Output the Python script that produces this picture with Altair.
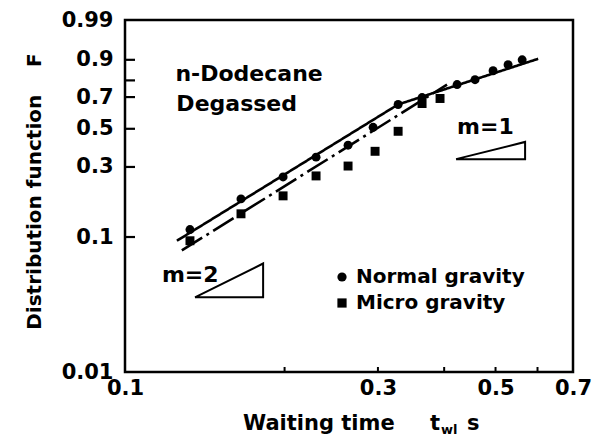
import altair as alt
import numpy as np
import pandas as pd

# ---------------- data ----------------
normal_t = [0.1326, 0.1655, 0.1987, 0.2293, 0.2635, 0.2938, 0.3275, 0.3634, 0.4231, 0.4574, 0.4947, 0.5280, 0.5613]
normal_F = [0.113, 0.185, 0.259, 0.345, 0.406, 0.509, 0.653, 0.697, 0.776, 0.804, 0.851, 0.879, 0.900]

micro_t = [0.1326, 0.1655, 0.1987, 0.2293, 0.2635, 0.2963, 0.3275, 0.3634, 0.3929]
micro_F = [0.094, 0.146, 0.194, 0.263, 0.304, 0.374, 0.485, 0.659, 0.691]

normal_fit_t = [0.1253, 0.3275, 0.6017]
normal_fit_F = [0.094, 0.653, 0.904]
micro_fit_t = [0.128, 0.405]
micro_fit_F = [0.080, 0.776]

tri_m2_t = [0.1355, 0.1822, 0.1822, 0.1355]
tri_m2_F = [0.0362, 0.0362, 0.0643, 0.0362]
tri_m1_t = [0.4212, 0.5685, 0.5685, 0.4212]
tri_m1_F = [0.3355, 0.3355, 0.424, 0.3355]

notes = ["n-Dodecane", "Degassed", "m=1", "m=2"]
notes_t = [0.1245, 0.1250, 0.4230, 0.1174]
notes_F = [0.836, 0.659, 0.512, 0.0526]

legend_labels = ["Normal gravity", "Micro gravity"]

y_tick_F = [0.01, 0.1, 0.3, 0.5, 0.7, 0.8, 0.9, 0.99]
y_tick_labels = ["0.01", "0.1", "0.3", "0.5", "0.7", "", "0.9", "0.99"]
y_inner_ticks = [0.1, 0.3, 0.5, 0.7, 0.8, 0.9]
x_label_t = [0.1, 0.3, 0.5, 0.7]
x_inner_ticks = [0.2, 0.3, 0.4, 0.5, 0.6]

# ---------------- helpers ----------------
FONT = "DejaVu Sans"
W, H = 448, 352


def weib(F):
    return np.log(-np.log(1.0 - np.asarray(F, dtype=float)))


y_vals = [float(v) for v in weib(y_tick_F)]
expr = "''"
for v, lab in reversed(list(zip(y_vals, y_tick_labels))):
    expr = f"abs(datum.value - ({v:.6f})) < 0.001 ? '{lab}' : " + expr

xscale = alt.Scale(type="log", domain=[0.1, 0.7], nice=False)
yscale = alt.Scale(domain=[float(weib(0.01)), float(weib(0.99))], nice=False, zero=False)

X = alt.X("t:Q", scale=xscale, axis=alt.Axis(
    values=x_label_t, format=".1f", labelFlush=False, labelOverlap=False,
    labelFont=FONT, labelFontSize=21, labelFontWeight="bold", labelColor="black",
    labelPadding=5, ticks=False, tickSize=0, domain=False, grid=False, title=None))

Y = alt.Y("w:Q", scale=yscale, axis=alt.Axis(
    values=y_vals, labelExpr=expr, labelOverlap=False, labelFlush=False,
    labelFont=FONT, labelFontSize=21, labelFontWeight="bold", labelColor="black",
    labelPadding=12, ticks=False, tickSize=0, domain=False, grid=False,
    title="Distribution function\u00a0\u00a0\u00a0\u00a0F", titleFont=FONT, titleFontSize=20,
    titleFontWeight="bold", titleColor="black", titleAngle=270, titleX=-85, titleY=171,
    titleAlign="center", titleBaseline="alphabetic"))

pts = pd.DataFrame({
    "t": normal_t + micro_t,
    "w": np.concatenate([weib(normal_F), weib(micro_F)]),
    "cond": ["Normal gravity"] * len(normal_t) + ["Micro gravity"] * len(micro_t),
})

fits = pd.DataFrame({
    "t": normal_fit_t + micro_fit_t,
    "w": np.concatenate([weib(normal_fit_F), weib(micro_fit_F)]),
    "series": ["Normal gravity"] * len(normal_fit_t) + ["Micro gravity"] * len(micro_fit_t),
})

tris = pd.DataFrame({
    "t": tri_m2_t + tri_m1_t,
    "w": np.concatenate([weib(tri_m2_F), weib(tri_m1_F)]),
    "tri": ["m2"] * len(tri_m2_t) + ["m1"] * len(tri_m1_t),
    "order": list(range(len(tri_m2_t))) + list(range(len(tri_m1_t))),
})

notes_df = pd.DataFrame({"t": notes_t, "w": weib(notes_F), "label": notes})

yt_df = pd.DataFrame({"w": weib(y_inner_ticks)})
xt_df = pd.DataFrame({"t": x_inner_ticks})

SHAPES = alt.Scale(domain=legend_labels, range=["circle", "square"])

# ---------------- layers ----------------
frame = alt.Chart(pd.DataFrame({"k": [0]})).mark_rect(
    fillOpacity=0, stroke="black", strokeWidth=2.5
).encode(x=alt.value(0), x2=alt.value(W), y=alt.value(0), y2=alt.value(H))

fit_layer = alt.Chart(fits).mark_line(color="black", strokeWidth=2.6).encode(
    x=X, y=Y, detail="series:N",
    strokeDash=alt.StrokeDash("series:N", scale=alt.Scale(
        domain=legend_labels, range=[[1, 0], [24, 5, 3, 5]]), legend=None),
)

pt_layer = alt.Chart(pts).mark_point(filled=True, color="black", size=80, opacity=1).encode(
    x=X, y=Y, shape=alt.Shape("cond:N", scale=SHAPES, legend=None),
)

tri_layer = alt.Chart(tris).mark_line(color="black", strokeWidth=2).encode(
    x=X, y=Y, detail="tri:N", order="order:Q")

note_layer = alt.Chart(notes_df).mark_text(
    align="left", baseline="middle", font=FONT, fontSize=22, fontWeight="bold", color="black"
).encode(x=X, y=Y, text="label:N")

ytick_layer = alt.Chart(yt_df).mark_rule(color="black", strokeWidth=2.2).encode(
    y=Y, x=alt.value(0), x2=alt.value(10))

xtick_layer = alt.Chart(xt_df).mark_rule(color="black", strokeWidth=2).encode(
    x=X, y=alt.value(H), y2=alt.value(H - 5))

# manual legend placed inside the plot area
LEG_Y = alt.Scale(domain=legend_labels, range=[257, 283], padding=0)
leg_df = pd.DataFrame({"cond": legend_labels})
leg_sym = alt.Chart(leg_df).mark_point(filled=True, color="black", size=85, opacity=1).encode(
    shape=alt.Shape("cond:N", scale=SHAPES, legend=None),
    x=alt.value(217),
    y=alt.Y("cond:N", scale=LEG_Y, axis=None),
)
leg_txt = alt.Chart(leg_df).mark_text(
    align="left", baseline="middle", font=FONT, fontSize=20, fontWeight="bold", color="black"
).encode(
    text="cond:N", x=alt.value(231),
    y=alt.Y("cond:N", scale=LEG_Y, axis=None),
)


def label_text(txt, x, y, size):
    return alt.Chart(pd.DataFrame({"label": [txt]})).mark_text(
        align="left", baseline="alphabetic", font=FONT, fontSize=size, fontWeight="bold", color="black"
    ).encode(text="label:N", x=alt.value(x), y=alt.value(y))


xt1 = label_text("Waiting time", 118, 410, 21)
xt2 = label_text("t", 305, 410, 21)
xt3 = label_text("wl", 316, 414, 13)
xt4 = label_text("s", 342, 410, 21)

main = alt.layer(
    frame, fit_layer, tri_layer, pt_layer, note_layer, ytick_layer, xtick_layer, xt1, xt2, xt3, xt4
)
legend_block = alt.layer(leg_sym, leg_txt)

chart = alt.layer(main, legend_block).resolve_scale(y="independent").properties(
    width=W, height=H,
    autosize=alt.AutoSizeParams(type="none"),
    padding={"left": 117, "top": 12, "right": 30, "bottom": 65},
).configure(background="white").configure_view(stroke=None)

chart.save("out.html", embed_options={"renderer": "svg", "actions": False})
